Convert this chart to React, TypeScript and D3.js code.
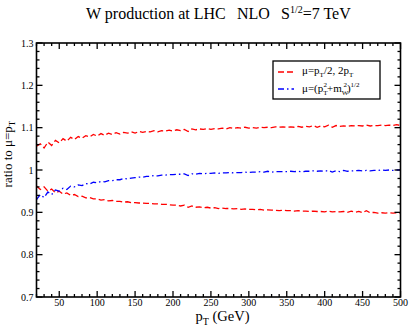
import React, { useEffect, useRef } from 'react';
import * as d3 from 'd3';

// pT grid (GeV)
const PT: number[] = d3.range(20, 501, 5);

// ratio to mu = pT, scale mu = 2 pT / pT/2 (upper band edge)
const RED_UP: number[] = [
  1.056, 1.062, 1.052, 1.066, 1.058, 1.070, 1.064, 1.074, 1.068, 1.077,
  1.072, 1.079, 1.075, 1.081, 1.078, 1.084, 1.080, 1.086, 1.082, 1.087,
  1.084, 1.088, 1.085, 1.089, 1.087, 1.090, 1.087, 1.091, 1.089, 1.091,
  1.090, 1.093, 1.090, 1.093, 1.092, 1.094, 1.092, 1.095, 1.093, 1.096,
  1.091, 1.097, 1.095, 1.097, 1.096, 1.098, 1.096, 1.098, 1.097, 1.099,
  1.097, 1.100, 1.098, 1.100, 1.099, 1.101, 1.099, 1.100, 1.099, 1.101,
  1.100, 1.101, 1.100, 1.102, 1.101, 1.102, 1.101, 1.102, 1.101, 1.103,
  1.101, 1.103, 1.102, 1.105, 1.101, 1.104, 1.102, 1.106, 1.101, 1.105,
  1.103, 1.104, 1.103, 1.105, 1.104, 1.105, 1.104, 1.106, 1.104, 1.105,
  1.105, 1.106, 1.105, 1.106, 1.105, 1.107, 1.105,
];

// lower band edge
const RED_LO: number[] = [
  0.962, 0.954, 0.960, 0.950, 0.955, 0.946, 0.950, 0.943, 0.946, 0.940,
  0.942, 0.937, 0.938, 0.934, 0.935, 0.932, 0.932, 0.929, 0.930, 0.927,
  0.928, 0.926, 0.926, 0.924, 0.925, 0.923, 0.923, 0.922, 0.922, 0.921,
  0.921, 0.920, 0.920, 0.919, 0.919, 0.918, 0.917, 0.917, 0.915, 0.917,
  0.912, 0.915, 0.912, 0.913, 0.911, 0.912, 0.910, 0.911, 0.909, 0.910,
  0.909, 0.909, 0.908, 0.909, 0.907, 0.908, 0.907, 0.907, 0.906, 0.907,
  0.905, 0.906, 0.905, 0.905, 0.904, 0.905, 0.904, 0.904, 0.903, 0.904,
  0.903, 0.903, 0.902, 0.903, 0.902, 0.902, 0.901, 0.903, 0.901, 0.902,
  0.901, 0.902, 0.900, 0.903, 0.900, 0.902, 0.899, 0.904, 0.899, 0.900,
  0.898, 0.899, 0.898, 0.899, 0.898, 0.899, 0.898,
];

// mu = sqrt(pT^2 + mW^2)
const BLUE: number[] = [
  0.930, 0.942, 0.935, 0.948, 0.942, 0.953, 0.950, 0.957, 0.954, 0.962,
  0.960, 0.965, 0.963, 0.968, 0.967, 0.971, 0.970, 0.973, 0.972, 0.975,
  0.975, 0.977, 0.977, 0.980, 0.979, 0.981, 0.982, 0.983, 0.983, 0.985,
  0.985, 0.987, 0.986, 0.988, 0.988, 0.989, 0.989, 0.990, 0.990, 0.991,
  0.987, 0.991, 0.990, 0.992, 0.991, 0.992, 0.992, 0.993, 0.992, 0.993,
  0.993, 0.994, 0.993, 0.994, 0.994, 0.995, 0.994, 0.995, 0.995, 0.996,
  0.995, 0.997, 0.995, 0.996, 0.996, 0.996, 0.996, 0.997, 0.996, 0.997,
  0.996, 0.997, 0.997, 0.998, 0.997, 0.998, 0.997, 0.999, 0.995, 0.998,
  0.996, 0.999, 0.997, 0.998, 0.998, 0.999, 0.998, 0.999, 0.998, 0.999,
  0.999, 1.000, 0.999, 1.000, 0.999, 1.000, 1.000,
];

const X_TICKS = [50, 100, 150, 200, 250, 300, 350, 400, 450, 500];
const Y_TICKS = [0.7, 0.8, 0.9, 1.0, 1.1, 1.2, 1.3];

const FONT = '"Liberation Serif", "DejaVu Serif", serif';

export default function App() {
  const svgRef = useRef<SVGSVGElement>(null);

  useEffect(() => {
    const W = 409, H = 329;
    const m = { top: 43, right: 8.5, bottom: 32, left: 36.5 };
    const w = W - m.left - m.right;
    const h = H - m.top - m.bottom;

    const svg = d3.select(svgRef.current);
    svg.selectAll('*').remove();

    const x = d3.scaleLinear().domain([20, 500]).range([0, w]);
    const y = d3.scaleLinear().domain([0.7, 1.3]).range([h, 0]);

    const g = svg.append('g').attr('transform', `translate(${m.left},${m.top})`);

    const line = d3.line<number>()
      .x((_, i) => x(PT[i]))
      .y(d => y(d));

    // curves
    g.append('path').datum(RED_UP).attr('d', line)
      .attr('fill', 'none').attr('stroke', '#ff0000').attr('stroke-width', 1.3)
      .attr('stroke-dasharray', '6,3');
    g.append('path').datum(RED_LO).attr('d', line)
      .attr('fill', 'none').attr('stroke', '#ff0000').attr('stroke-width', 1.3)
      .attr('stroke-dasharray', '6,3');
    g.append('path').datum(BLUE).attr('d', line)
      .attr('fill', 'none').attr('stroke', '#0000ff').attr('stroke-width', 1.3)
      .attr('stroke-dasharray', '6,3,1.5,3');

    // frame
    g.append('rect').attr('width', w).attr('height', h)
      .attr('fill', 'none').attr('stroke', '#000').attr('stroke-width', 1.6);

    // ticks (inward, all four sides)
    const ticks = g.append('g').attr('stroke', '#000').attr('stroke-width', 1.3);
    d3.range(20, 501, 10).forEach(v => {
      const len = v % 50 === 0 ? 6 : 3;
      ticks.append('line').attr('x1', x(v)).attr('x2', x(v)).attr('y1', h).attr('y2', h - len);
      ticks.append('line').attr('x1', x(v)).attr('x2', x(v)).attr('y1', 0).attr('y2', len);
    });
    d3.range(0, 31).forEach(i => {
      const v = 0.7 + i * 0.02;
      const len = i % 5 === 0 ? 6 : 3;
      ticks.append('line').attr('x1', 0).attr('x2', len).attr('y1', y(v)).attr('y2', y(v));
      ticks.append('line').attr('x1', w).attr('x2', w - len).attr('y1', y(v)).attr('y2', y(v));
    });

    // tick labels
    g.append('g').selectAll('text').data(X_TICKS).join('text')
      .attr('x', d => x(d)).attr('y', h + 9)
      .attr('text-anchor', 'middle')
      .style('font-family', FONT).style('font-size', '10px')
      .text(d => d);
    g.append('g').selectAll('text').data(Y_TICKS).join('text')
      .attr('x', -3).attr('y', d => y(d) + 3.5)
      .attr('text-anchor', 'end')
      .style('font-family', FONT).style('font-size', '10px')
      .text(d => (d === 1 ? '1' : d.toFixed(1)));

    // title
    const tStyle = (t: any) => t.style('font-family', FONT).style('font-size', '16px');
    svg.append('text').attr('x', 86).attr('y', 19).call(tStyle).text('W production at LHC');
    svg.append('text').attr('x', 237).attr('y', 19).call(tStyle).text('NLO');
    const tS = svg.append('text').attr('x', 281).attr('y', 19).call(tStyle);
    tS.append('tspan').text('S');
    tS.append('tspan').attr('dy', -6).style('font-size', '10px').text('1/2');
    tS.append('tspan').attr('dy', 6).text('=7 TeV');

    // x title
    const xt = svg.append('text')
      .attr('x', m.left + w / 2 + 4).attr('y', 321)
      .attr('text-anchor', 'middle')
      .style('font-family', FONT).style('font-size', '14.5px');
    xt.append('tspan').text('p');
    xt.append('tspan').attr('dy', 4).style('font-size', '10px').text('T');
    xt.append('tspan').attr('dy', -4).text(' (GeV)');

    // y title
    const yt = svg.append('text')
      .attr('transform', `translate(12,154) rotate(-90)`)
      .attr('text-anchor', 'middle')
      .style('font-family', FONT).style('font-size', '13px');
    yt.append('tspan').text('ratio to μ=p');
    yt.append('tspan').attr('dy', 3).style('font-size', '9px').text('T');

    // legend
    const lg = svg.append('g').attr('transform', 'translate(273,61)');
    lg.append('rect').attr('width', 107).attr('height', 38)
      .attr('fill', '#fff').attr('stroke', '#000').attr('stroke-width', 1.3);
    lg.append('line').attr('x1', 5).attr('x2', 21).attr('y1', 11).attr('y2', 11)
      .attr('stroke', '#ff0000').attr('stroke-width', 1.3).attr('stroke-dasharray', '6,3');
    lg.append('line').attr('x1', 5).attr('x2', 21).attr('y1', 28).attr('y2', 28)
      .attr('stroke', '#0000ff').attr('stroke-width', 1.3).attr('stroke-dasharray', '6,3,1.5,3');

    const l1 = lg.append('text').attr('x', 29).attr('y', 13)
      .style('font-family', FONT).style('font-size', '11px');
    l1.append('tspan').text('μ=p');
    l1.append('tspan').attr('dy', 3).style('font-size', '7px').text('T');
    l1.append('tspan').attr('dy', -3).text('/2, 2p');
    l1.append('tspan').attr('dy', 3).style('font-size', '7px').text('T');

    const l2 = lg.append('text').attr('x', 29).attr('y', 31)
      .style('font-family', FONT).style('font-size', '11px');
    l2.append('tspan').text('μ=(p');
    l2.append('tspan').attr('dy', 3).style('font-size', '7px').text('T');
    l2.append('tspan').attr('dy', -8).attr('dx', -4).style('font-size', '7px').text('2');
    l2.append('tspan').attr('dy', 5).text('+m');
    l2.append('tspan').attr('dy', 3).style('font-size', '7px').text('W');
    l2.append('tspan').attr('dy', -8).attr('dx', -5).style('font-size', '7px').text('2');
    l2.append('tspan').attr('dy', 5).text(')');
    l2.append('tspan').attr('dy', -5).style('font-size', '7px').text('1/2');
  }, []);

  return (
    <svg
      ref={svgRef}
      width={409}
      height={329}
      style={{ position: 'absolute', left: 0, top: 0, background: '#fff' }}
    />
  );
}
